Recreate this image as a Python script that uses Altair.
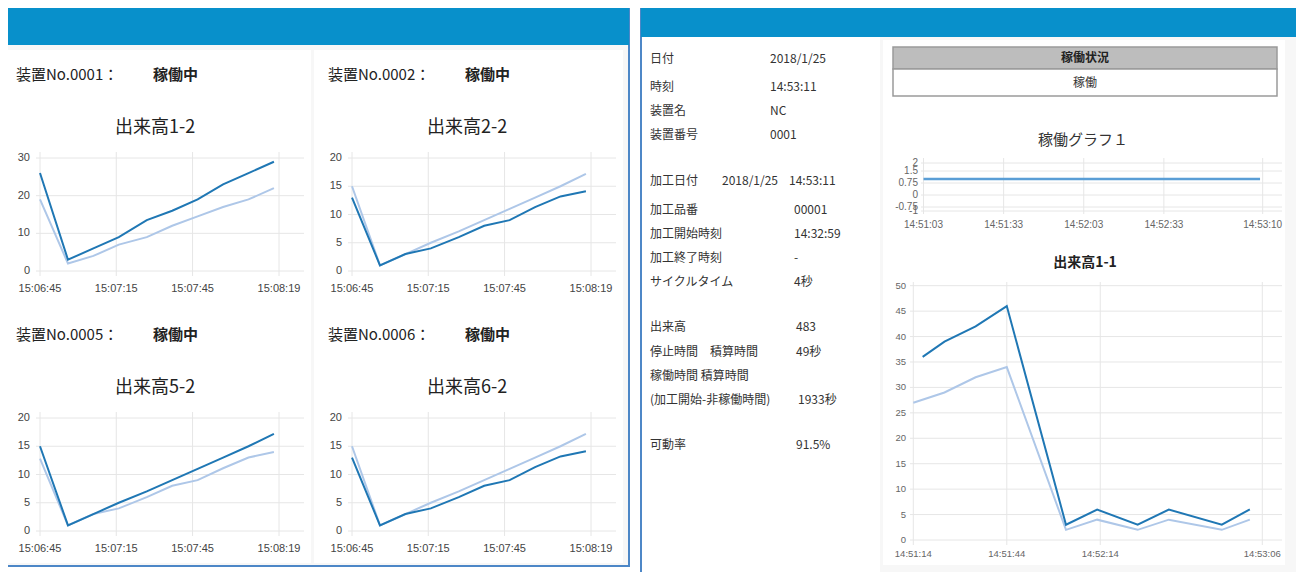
import altair as alt
import pandas as pd

# ---------------- data ----------------
small_times = ["15:06:45", "15:06:56", "15:07:06", "15:07:16", "15:07:27",
               "15:07:37", "15:07:47", "15:07:57", "15:08:07", "15:08:17"]
small_xticks = ["15:06:45", "15:07:15", "15:07:45", "15:08:19"]

c12_dark = [26, 3, 6, 9, 13.5, 16, 19, 23, 26, 29]
c12_light = [19, 2, 4, 7, 9, 12, 14.5, 17, 19, 22]
c22_dark = [13, 1, 3, 4, 6, 8, 9, 11.3, 13.2, 14.1]
c22_light = [15, 1, 3, 5, 7, 9, 11, 13, 15, 17.2]
c52_dark = [15, 1, 3, 5, 7, 9, 11, 13, 15, 17.2]
c52_light = [12.8, 1, 3, 4, 6, 8, 9, 11.1, 13, 14]
c62_dark = [13, 1, 3, 4, 6, 8, 9, 11.3, 13.2, 14.1]
c62_light = [15, 1, 3, 5, 7, 9, 11, 13, 15, 17.2]

yticks_30 = [0, 10, 20, 30]
yticks_20 = [0, 5, 10, 15, 20]

g1_times = ["14:51:03", "14:53:09"]
g1_vals = [1, 1]
g1_xticks = ["14:51:03", "14:51:33", "14:52:03", "14:52:33", "14:53:10"]
g1_yticks = [2, 1.5, 0.75, 0, -0.75, -1]

c11_dark_times = ["14:51:17", "14:51:24", "14:51:34", "14:51:44", "14:52:03",
                  "14:52:13", "14:52:26", "14:52:36", "14:52:53", "14:53:02"]
c11_light_times = ["14:51:14", "14:51:24", "14:51:34", "14:51:44", "14:52:03",
                   "14:52:13", "14:52:26", "14:52:36", "14:52:53", "14:53:02"]
c11_dark = [36, 39, 42, 46, 3, 6, 3, 6, 3, 6]
c11_light = [27, 29, 32, 34, 2, 4, 2, 4, 2, 4]
c11_xticks = ["14:51:14", "14:51:44", "14:52:14", "14:53:06"]
c11_yticks = [0, 5, 10, 15, 20, 25, 30, 35, 40, 45, 50]

cell_devices = ["装置No.0001：", "装置No.0002：", "装置No.0005：", "装置No.0006："]
cell_status = ["稼働中", "稼働中", "稼働中", "稼働中"]
cell_titles = ["出来高1-2", "出来高2-2", "出来高5-2", "出来高6-2"]

info_labels = ["日付", "時刻", "装置名", "装置番号", "加工日付", "加工品番", "加工開始時刻",
               "加工終了時刻", "サイクルタイム", "出来高", "停止時間　積算時間",
               "稼働時間 積算時間", "(加工開始-非稼働時間)", "可動率"]
info_values = ["2018/1/25", "14:53:11", "NC", "0001", "2018/1/25", "14:53:11", "00001",
               "14:32:59", "-", "4秒", "483", "49秒", "1933秒", "91.5%"]

# ---------------- styling ----------------
JP = "Noto Sans CJK JP"
AX = "Liberation Sans"
BLUE_HDR = "#0890cb"
BLUE_BRD = "#4d87c7"
GRID = "#e6e6e6"
DARK = "#1f77b4"
LIGHT = "#aec7e8"

OX, OY = 8, 8


def X(px):
    return px - OX


def Y(py):
    return py - OY


def sec(s):
    h, m, x = s.split(":")
    return int(h) * 3600 + int(m) * 60 + int(x)


ONE = pd.DataFrame({"k": [0]})


def rect(x0, y0, x1, y1, fill, stroke=None, sw=0):
    kw = dict(fill=fill)
    if stroke:
        kw.update(stroke=stroke, strokeWidth=sw)
    return alt.Chart(ONE).mark_rect(**kw).encode(
        x=alt.value(X(x0)), x2=alt.value(X(x1)), y=alt.value(Y(y0)), y2=alt.value(Y(y1)))


def label(txt, x, y, size=12, weight="normal", align="left", color="#333333", font=JP):
    return alt.Chart(ONE).mark_text(
        text=txt, fontSize=size, fontWeight=weight, align=align, baseline="middle",
        color=color, font=font).encode(x=alt.value(X(x)), y=alt.value(Y(y)))


def mini_chart(series, xticks, yticks, x_px, y_dom, y_px, vgrid_y, hgrid_x,
               xlab_y, ylab_x, fsize, lab_color):
    xs = alt.Scale(domain=[sec(xticks[0]), sec(xticks[-1])],
                   range=[X(x_px[0]), X(x_px[1])], nice=False, zero=False)
    ys = alt.Scale(domain=list(y_dom), range=[Y(y_px[0]), Y(y_px[1])], nice=False, zero=False)
    xt = pd.DataFrame({"t": [sec(t) for t in xticks], "lab": xticks})
    yt = pd.DataFrame({"v": yticks, "lab": [f"{v:g}" for v in yticks]})
    ex = alt.X("t:Q", scale=xs, axis=None)
    ey = alt.Y("v:Q", scale=ys, axis=None)
    layers = [
        alt.Chart(xt).mark_rule(color=GRID, strokeWidth=1).encode(
            x=ex, y=alt.value(Y(vgrid_y[0])), y2=alt.value(Y(vgrid_y[1]))),
        alt.Chart(yt).mark_rule(color=GRID, strokeWidth=1).encode(
            y=ey, x=alt.value(X(hgrid_x[0])), x2=alt.value(X(hgrid_x[1]))),
        alt.Chart(xt).mark_text(align="center", baseline="middle", fontSize=fsize,
                                color=lab_color, font=AX).encode(
            x=ex, y=alt.value(Y(xlab_y)), text="lab:N"),
        alt.Chart(yt).mark_text(align="right", baseline="middle", fontSize=fsize,
                                color=lab_color, font=AX).encode(
            y=ey, x=alt.value(X(ylab_x)), text="lab:N"),
    ]
    for times, vals, col, w in series:
        d = pd.DataFrame({"t": [sec(t) for t in times], "v": vals})
        layers.append(alt.Chart(d).mark_line(color=col, strokeWidth=w).encode(x=ex, y=ey))
    return alt.layer(*layers)


decor = []
# left panel
decor.append(rect(7, 8, 629, 566, "#f7f7f7", BLUE_BRD, 2))
decor.append(rect(7, 8, 629, 45, BLUE_HDR))
decor.append(rect(8, 50, 311, 563, "#ffffff"))
decor.append(rect(314, 50, 623, 563, "#ffffff"))
# right panel
decor.append(rect(641, 0, 1297, 600, "#ffffff", BLUE_BRD, 2))
decor.append(rect(641, 0, 1297, 37, BLUE_HDR))
decor.append(rect(880, 37, 1296, 600, "#f7f7f7"))
decor.append(rect(883, 40, 1285, 565, "#ffffff"))
# status table
decor.append(rect(893, 47, 1277, 69, "#bdbdbd", "#9a9a9a", 1.5))
decor.append(rect(893, 69, 1277, 96, "#ffffff", "#9a9a9a", 1.5))

texts = []
offsets = [(0, 0), (312, 0), (0, 260), (312, 260)]
for (dx, dy), dev, st, ti in zip(offsets, cell_devices, cell_status, cell_titles):
    texts.append(label(dev, 16 + dx, 75 + dy, size=15, color="#222222"))
    texts.append(label(st, 153 + dx, 75 + dy, size=15, weight="bold", color="#222222"))
    texts.append(label(ti, 155 + dx, 128 + dy, size=18, align="center", color="#222222"))

label_ys = [59, 87, 111, 135, 181, 210, 234, 258, 282, 327, 352, 376, 400, 445]
for t, yy in zip(info_labels, label_ys):
    texts.append(label(t, 650, yy, size=12))
value_pos = [(770, 59), (770, 87), (770, 111), (770, 135), (722, 181), (789, 181),
             (794, 210), (794, 234), (794, 258), (794, 282), (796, 327), (796, 352),
             (798, 400), (796, 445)]
for v, (xx, yy) in zip(info_values, value_pos):
    texts.append(label(v, xx, yy, size=12))

texts.append(label("稼働状況", 1085, 58, size=12, weight="bold", align="center", color="#222222"))
texts.append(label("稼働", 1085, 83, size=12, align="center"))
texts.append(label("稼働グラフ１", 1083, 140, size=15, align="center"))
texts.append(label("出来高1-1", 1085, 263, size=14, weight="bold", align="center", color="#222222"))

charts = []
small_sets = [
    (c12_dark, c12_light, yticks_30, (0, 30)),
    (c22_dark, c22_light, yticks_20, (0, 20)),
    (c52_dark, c52_light, yticks_20, (0, 20)),
    (c62_dark, c62_light, yticks_20, (0, 20)),
]
for (dx, dy), (dk, lt, yt, yd) in zip(offsets, small_sets):
    charts.append(mini_chart(
        [(small_times, lt, LIGHT, 2), (small_times, dk, DARK, 2)],
        small_xticks, yt,
        x_px=(40 + dx, 279 + dx), y_dom=yd, y_px=(271 + dy, 158 + dy),
        vgrid_y=(152 + dy, 276 + dy), hgrid_x=(36 + dx, 304 + dx),
        xlab_y=289 + dy, ylab_x=30 + dx, fsize=11, lab_color="#444444"))

charts.append(mini_chart(
    [(g1_times, g1_vals, "#5a9ed6", 2.5)],
    g1_xticks, g1_yticks,
    x_px=(923.5, 1262.7), y_dom=(-1, 2), y_px=(211, 163),
    vgrid_y=(158, 214), hgrid_x=(921, 1282),
    xlab_y=225, ylab_x=918, fsize=10, lab_color="#666666"))

charts.append(mini_chart(
    [(c11_light_times, c11_light, LIGHT, 2), (c11_dark_times, c11_dark, DARK, 2)],
    c11_xticks, c11_yticks,
    x_px=(913.3, 1262.3), y_dom=(0, 50), y_px=(540, 285.7),
    vgrid_y=(282, 545), hgrid_x=(910, 1282),
    xlab_y=554, ylab_x=906, fsize=9.5, lab_color="#666666"))

chart = alt.layer(*decor, *texts, *charts).resolve_scale(
    x="independent", y="independent"
).properties(
    width=1288, height=564, padding=0,
    autosize=alt.AutoSizeParams(type="none"),
    background="#ffffff",
).configure_view(stroke=None)

chart.save("out.html", embed_options={"renderer": "svg", "actions": False})
